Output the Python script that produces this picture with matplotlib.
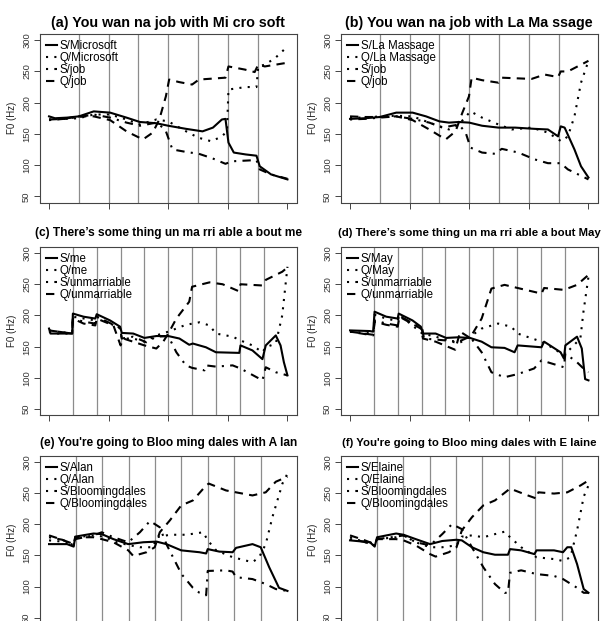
import matplotlib
matplotlib.use("Agg")
import matplotlib.pyplot as plt
import numpy as np

plt.rcParams.update({
    "font.family": ["Liberation Sans", "DejaVu Sans"],
    "axes.edgecolor": "#444444",
    "axes.linewidth": 0.8,
    "xtick.color": "#444444",
    "ytick.color": "#444444",
    "ytick.labelcolor": "#333333",
})

# ---- data: x in syllable units, y = F0 (Hz) ----
# (a) You wan na job with Mi cro soft
a_s_micro_x = [0, 0.2, 0.6, 1.0, 1.5, 2.05, 2.6, 3.05, 3.6, 4.0, 4.6, 5.15, 5.5, 5.8, 5.92, 6.02, 6.2, 6.6, 6.96, 7.07, 7.45, 8.0]
a_s_micro_y = [178, 175, 176, 178, 186, 184, 176, 169, 167, 163, 158, 154, 160, 173, 174, 136, 120, 117, 115, 98, 85, 77]
a_q_micro_x = [0, 0.5, 1.0, 1.5, 2.05, 2.6, 3.05, 3.6, 4.0, 4.6, 5.0, 5.45, 5.8, 5.97, 6.02, 6.6, 6.96, 7.02, 7.25, 7.6, 8.0]
a_q_micro_y = [173, 174, 175, 181, 181, 173, 165, 173, 170, 154, 144, 138, 146, 154, 221, 225, 225, 258, 261, 272, 290]
a_s_job_x = [0, 0.5, 1.0, 1.5, 2.05, 2.6, 3.05, 3.6, 3.9, 4.14, 4.6, 5.03, 5.47, 5.92, 6.13, 6.96, 7.07, 7.45, 8.0]
a_s_job_y = [172, 174, 177, 181, 176, 168, 163, 168, 157, 125, 121, 118, 111, 102, 106, 108, 93, 85, 78]
a_q_job_x = [0, 0.5, 1.0, 1.5, 2.05, 2.6, 3.15, 3.48, 3.7, 3.92, 4.03, 4.36, 4.8, 5.03, 5.92, 6.02, 6.57, 6.9, 7.02, 7.24, 8.0]
a_q_job_y = [173, 174, 178, 178, 172, 154, 141, 152, 173, 210, 237, 233, 229, 237, 240, 258, 253, 249, 261, 258, 264]

# (b) You wan na job with La Ma ssage
b_s_lm_x = [0, 0.5, 1.0, 1.55, 2.1, 2.55, 3.0, 3.32, 3.65, 4.0, 4.43, 4.98, 5.54, 6.2, 6.64, 6.98, 7.07, 7.2, 7.53, 7.75, 8.0]
b_s_lm_y = [174, 175, 177, 184, 184, 178, 170, 168, 169, 168, 163, 160, 160, 158, 157, 146, 162, 160, 125, 98, 80]
b_q_lm_x = [0, 0.5, 1.0, 1.55, 2.1, 2.66, 3.32, 3.65, 4.04, 4.43, 4.98, 5.43, 6.09, 6.64, 7.09, 7.31, 7.53, 7.75, 8.0]
b_q_lm_y = [176, 176, 178, 179, 178, 168, 157, 165, 186, 176, 165, 157, 160, 152, 138, 146, 178, 232, 267]
b_s_job_x = [0, 0.5, 1.0, 1.55, 2.1, 2.66, 3.1, 3.65, 3.88, 4.04, 4.43, 4.87, 5.09, 5.65, 6.2, 6.64, 7.07, 7.31, 8.0]
b_s_job_y = [173, 174, 176, 178, 174, 168, 160, 165, 152, 128, 120, 118, 126, 120, 109, 103, 103, 93, 77]
b_q_job_x = [0, 0.5, 1.0, 1.55, 2.1, 2.66, 3.21, 3.54, 3.77, 3.99, 4.08, 4.43, 4.98, 5.09, 6.09, 6.53, 6.98, 7.07, 7.31, 8.0]
b_q_job_y = [178, 177, 177, 178, 172, 157, 141, 154, 184, 210, 240, 236, 232, 240, 238, 245, 241, 250, 250, 267]

# (c) There's some thing un ma rri able a bout me
c_s_me_x = [0, 0.06, 0.97, 1.0, 1.45, 1.94, 2.0, 2.56, 2.98, 3.05, 3.53, 4.0, 4.5, 5.0, 5.47, 5.88, 6.03, 6.58, 7.0, 7.98, 8.03, 8.53, 8.95, 9.09, 9.51, 9.71, 9.85, 10.0]
c_s_me_y = [179, 171, 171, 203, 198, 195, 202, 192, 182, 172, 171, 164, 167, 167, 163, 153, 155, 149, 141, 140, 152, 144, 130, 152, 168, 152, 125, 104]
c_q_me_x = [0, 0.3, 0.97, 1.0, 1.94, 2.0, 2.98, 3.05, 3.53, 4.0, 4.5, 5.0, 5.74, 6.31, 6.73, 7.0, 7.7, 8.03, 8.53, 8.95, 9.09, 9.51, 9.78, 10.0]
c_q_me_y = [174, 171, 171, 198, 192, 198, 179, 163, 163, 158, 168, 174, 185, 189, 184, 171, 166, 160, 152, 141, 149, 155, 200, 278]
c_s_un_x = [0, 0.97, 1.0, 1.45, 1.94, 2.0, 2.98, 3.05, 3.53, 4.08, 4.5, 5.0, 5.34, 5.74, 6.0, 6.52, 6.58, 7.0, 7.7, 8.03, 8.95, 9.09, 9.51, 10.0]
c_s_un_y = [176, 171, 195, 190, 187, 198, 180, 163, 166, 157, 166, 167, 141, 120, 116, 112, 120, 118, 120, 115, 96, 117, 109, 104]
c_q_un_x = [0, 0.97, 1.0, 1.45, 1.94, 2.0, 2.7, 3.0, 3.12, 4.0, 4.5, 4.79, 5.0, 5.34, 5.88, 6.0, 6.73, 7.28, 7.95, 8.03, 8.95, 9.09, 9.78, 10.0]
c_q_un_y = [176, 171, 195, 187, 184, 195, 184, 152, 163, 152, 147, 158, 171, 195, 222, 246, 253, 250, 239, 250, 248, 257, 270, 277]

# (d) There's some thing un ma rri able a bout May
d_s_may_x = [0, 0.83, 0.97, 1.03, 1.52, 2.0, 2.04, 2.62, 2.97, 3.06, 3.59, 4.03, 4.55, 5.03, 5.52, 5.93, 6.48, 6.9, 7.03, 8.03, 8.14, 8.83, 8.97, 9.03, 9.52, 9.72, 9.86, 10.0]
d_s_may_y = [176, 175, 174, 206, 198, 195, 203, 192, 182, 171, 171, 164, 165, 164, 158, 149, 148, 141, 152, 149, 158, 141, 131, 152, 166, 147, 98, 96]
d_q_may_x = [0, 0.97, 1.03, 1.52, 2.0, 2.07, 3.03, 3.59, 4.55, 5.03, 5.52, 6.21, 6.76, 7.03, 8.03, 8.55, 8.97, 9.38, 9.66, 9.79, 10.0]
d_q_may_y = [174, 171, 201, 195, 191, 201, 171, 166, 155, 166, 179, 187, 182, 171, 158, 147, 136, 152, 163, 206, 262]
d_s_un_x = [0, 0.97, 1.03, 1.52, 2.0, 2.04, 3.03, 3.1, 4.0, 4.55, 5.03, 5.52, 5.93, 6.48, 7.03, 7.72, 8.03, 8.97, 9.03, 9.52, 9.79, 10.0]
d_s_un_y = [174, 168, 192, 187, 184, 200, 179, 163, 160, 158, 166, 141, 109, 101, 106, 115, 128, 117, 139, 125, 115, 109]
d_q_un_x = [0, 0.97, 1.03, 1.52, 2.0, 2.07, 2.97, 3.06, 3.59, 4.41, 4.62, 5.03, 5.52, 5.93, 6.48, 7.03, 8.03, 8.14, 8.97, 9.52, 10.0]
d_q_un_y = [174, 169, 190, 185, 182, 198, 179, 163, 158, 145, 174, 164, 195, 243, 249, 244, 235, 244, 241, 249, 265]

# (e) You're going to Bloo ming dales with A lan
e_s_alan_x = [0, 0.68, 0.93, 0.99, 1.68, 1.99, 2.43, 2.99, 3.56, 4.06, 4.43, 4.99, 5.68, 5.93, 5.99, 6.43, 6.93, 7.06, 7.68, 7.99, 8.31, 8.68, 9.0]
e_s_alan_y = [168, 168, 164, 180, 185, 184, 176, 168, 171, 172, 168, 158, 155, 153, 160, 156, 155, 162, 168, 163, 131, 98, 93]
e_q_alan_x = [0, 0.5, 0.93, 0.99, 1.68, 2.06, 2.56, 3.06, 3.43, 3.93, 4.06, 4.56, 5.18, 5.82, 5.99, 6.31, 6.93, 7.68, 7.93, 8.18, 8.43, 8.81, 9.0]
e_q_alan_y = [174, 172, 166, 179, 182, 180, 171, 166, 163, 163, 179, 183, 183, 187, 174, 158, 147, 139, 147, 168, 211, 265, 281]
e_s_bl_x = [0, 0.5, 0.93, 0.99, 1.68, 1.99, 2.43, 2.99, 3.43, 3.81, 4.18, 4.43, 4.81, 5.0, 5.43, 5.68, 5.93, 5.99, 6.68, 6.93, 7.06, 7.68, 8.18, 8.56, 9.0]
e_s_bl_y = [179, 175, 166, 176, 182, 187, 179, 171, 187, 205, 195, 168, 136, 120, 98, 90, 86, 125, 126, 124, 115, 112, 104, 96, 93]
e_q_bl_x = [0, 0.5, 0.93, 0.99, 1.68, 1.99, 2.43, 2.99, 3.18, 3.68, 3.99, 4.18, 4.56, 4.99, 5.43, 5.93, 6.03, 6.68, 7.18, 7.68, 8.18, 8.56, 9.0]
e_q_bl_y = [182, 175, 168, 179, 179, 176, 171, 158, 149, 155, 163, 187, 206, 230, 238, 262, 265, 254, 250, 246, 251, 268, 276]

# (f) You're going to Bloo ming dales with E laine
f_s_el_x = [0, 0.75, 0.93, 1.02, 1.74, 2.02, 2.48, 3.02, 3.48, 4.02, 4.22, 4.6, 5.03, 5.47, 5.96, 6.04, 6.46, 6.96, 7.04, 7.7, 8.04, 8.2, 8.35, 8.57, 8.82, 9.0]
f_s_el_y = [174, 171, 164, 179, 185, 183, 176, 168, 173, 175, 174, 163, 155, 151, 151, 160, 158, 152, 158, 158, 155, 163, 163, 136, 96, 90]
f_q_el_x = [0, 0.5, 0.93, 1.02, 1.74, 2.02, 2.48, 3.02, 3.48, 4.02, 4.22, 4.6, 5.03, 5.47, 5.84, 6.04, 6.46, 7.04, 7.7, 8.04, 8.32, 8.57, 8.82, 9.0]
f_q_el_y = [179, 172, 166, 176, 179, 182, 171, 163, 163, 166, 180, 182, 179, 184, 188, 179, 163, 147, 144, 141, 147, 190, 244, 262]
f_s_bl_x = [0, 0.5, 0.93, 1.02, 1.74, 2.02, 2.48, 3.02, 3.48, 3.85, 4.22, 4.6, 5.03, 5.47, 5.84, 5.96, 6.04, 6.46, 7.04, 7.7, 8.04, 8.57, 8.82, 9.0]
f_s_bl_y = [176, 172, 166, 176, 180, 182, 171, 166, 184, 200, 192, 163, 131, 104, 90, 90, 122, 126, 120, 117, 112, 98, 90, 90]
f_q_bl_x = [0, 0.5, 0.93, 1.02, 1.74, 2.02, 2.48, 3.02, 3.23, 3.73, 4.02, 4.22, 4.6, 5.03, 5.47, 6.04, 6.71, 7.04, 7.11, 7.7, 8.2, 8.7, 9.0]
f_q_bl_y = [182, 175, 168, 176, 176, 174, 166, 152, 148, 155, 163, 190, 211, 230, 238, 257, 246, 241, 251, 249, 251, 262, 270]

TITLES = [
    "(a) You wan na job with Mi cro soft",
    "(b) You wan na job with La Ma ssage",
    "(c) There\u2019s some thing un ma rri able a bout me",
    "(d) There\u2019s some thing un ma rri able a bout May",
    "(e) You're going to Bloo ming dales with A lan",
    "(f) You're going to Bloo ming dales with E laine",
]
# title widths in the reference, px
TITLE_W = [233, 246, 265, 261, 256, 254]
N_SYLL = [8, 8, 10, 10, 9, 9]
LABELS = [
    ["S/Microsoft", "Q/Microsoft", "S/job", "Q/job"],
    ["S/La Massage", "Q/La Massage", "S/job", "Q/job"],
    ["S/me", "Q/me", "S/unmarriable", "Q/unmarriable"],
    ["S/May", "Q/May", "S/unmarriable", "Q/unmarriable"],
    ["S/Alan", "Q/Alan", "S/Bloomingdales", "Q/Bloomingdales"],
    ["S/Elaine", "Q/Elaine", "S/Bloomingdales", "Q/Bloomingdales"],
]
SERIES = [
    [(a_s_micro_x, a_s_micro_y), (a_q_micro_x, a_q_micro_y), (a_s_job_x, a_s_job_y), (a_q_job_x, a_q_job_y)],
    [(b_s_lm_x, b_s_lm_y), (b_q_lm_x, b_q_lm_y), (b_s_job_x, b_s_job_y), (b_q_job_x, b_q_job_y)],
    [(c_s_me_x, c_s_me_y), (c_q_me_x, c_q_me_y), (c_s_un_x, c_s_un_y), (c_q_un_x, c_q_un_y)],
    [(d_s_may_x, d_s_may_y), (d_q_may_x, d_q_may_y), (d_s_un_x, d_s_un_y), (d_q_un_x, d_q_un_y)],
    [(e_s_alan_x, e_s_alan_y), (e_q_alan_x, e_q_alan_y), (e_s_bl_x, e_s_bl_y), (e_q_bl_x, e_q_bl_y)],
    [(f_s_el_x, f_s_el_y), (f_q_el_x, f_q_el_y), (f_s_bl_x, f_s_bl_y), (f_q_bl_x, f_q_bl_y)],
]
YTICKS = [50, 100, 150, 200, 250, 300]

# R-like line types: solid, dotted, dotdash, dashed
LSTYLES = ["-", (0, (1, 3)), (0, (1, 3, 4, 3)), (0, (4, 3))]

W, H = 606, 621
fig = plt.figure(figsize=(W / 100, H / 100), dpi=100)

LEFTS = [39.5, 340.5]
TOPS = [34, 246.8, 455.5]
TITLE_PAD = [5, 8, 7]
AW, AH = 257.5, 168.5

titles = []
for i in range(6):
    r, c = divmod(i, 2)
    ax = fig.add_axes([LEFTS[c] / W, (H - TOPS[r] - AH) / H, AW / W, AH / H])
    n = N_SYLL[i]
    for k in range(1, n):
        ax.axvline(k / n, color="#8c8c8c", lw=0.9, zorder=0)
    for (xs, ys), lab, ls in zip(SERIES[i], LABELS[i], LSTYLES):
        ax.plot(np.array(xs) / n, ys, color="black", lw=1.5, ls=ls, label=lab)
    ax.set_xlim(-0.04, 1.04)
    ax.set_ylim(40, 310)
    ax.set_xticks([0, 0.25, 0.5, 0.75, 1.0])
    ax.set_xticklabels([])
    ax.set_yticks(YTICKS)
    ax.tick_params(axis="both", length=4, width=0.7)
    ax.tick_params(axis="y", labelrotation=90, labelsize=6.8, pad=2)
    for lbl in ax.get_yticklabels():
        lbl.set_va("center")
    ax.set_ylabel("F0 (Hz)", fontsize=7, color="#222222", labelpad=4)
    t = ax.set_title(TITLES[i], fontsize=10.2, fontweight="bold", pad=TITLE_PAD[r])
    titles.append((t, TITLE_W[i]))
    ax.legend(loc="upper left", frameon=False, fontsize=8.3, handlelength=0.95,
              handletextpad=0.25, labelspacing=0.0, borderaxespad=0.3,
              borderpad=0.25)

# shrink the long titles to the width they have in the reference
renderer = fig.canvas.get_renderer()
for t, target in titles:
    w = t.get_window_extent(renderer).width
    t.set_fontsize(t.get_fontsize() * target / w)

fig.savefig("out.png", dpi=100)
